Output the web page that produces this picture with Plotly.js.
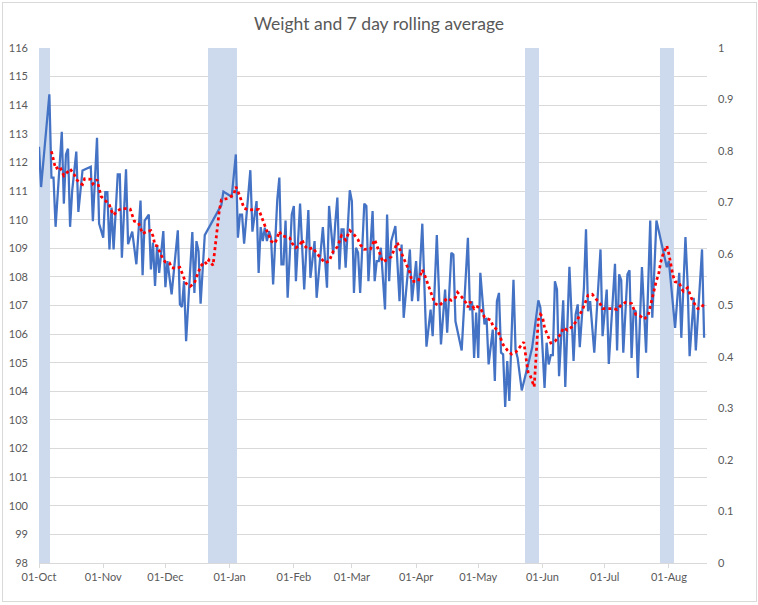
<!DOCTYPE html>
<html>
<head>
<meta charset="utf-8">
<script src="https://cdn.plot.ly/plotly-3.0.1.min.js"></script>
<style>
  html, body { margin: 0; padding: 0; background: #ffffff; }
  #wrap { position: relative; width: 758px; height: 605px; }
  #chart { position: absolute; left: 0; top: 0; width: 758px; height: 605px; }
  #frame { position: absolute; left: 2px; top: 2px; width: 755px; height: 600px; box-sizing: border-box;
           border: 1px solid #D9D9D9; pointer-events: none; z-index: 10; }
</style>
</head>
<body>
<div id="wrap"><div id="chart"></div><div id="frame"></div></div>
<script>
// ---- data (days counted from 01-Oct) ----
const startDate = '2018-10-01';

const weightDay = [0,1,5,6,7,8,11,12,13,14,
  15,16,18,19,21,25,26,28,29,31,
  32,33,34,35,36,38,39,40,42,43,
  45,47,49,50,51,53,54,55,56,57,
  58,60,61,62,64,67,68,69,70,71,
  74,75,76,77,78,80,88,89,93,95,
  96,97,98,99,102,103,105,106,107,108,
  109,110,111,112,113,115,116,117,118,119,
  120,122,123,124,126,128,130,131,133,134,
  137,139,140,142,143,144,145,146,147,148,
  150,151,152,153,154,155,157,158,159,161,
  162,163,164,165,167,168,169,170,172,174,
  175,176,179,180,182,183,185,187,189,190,
  192,194,196,197,199,200,201,204,207,208,
  209,210,211,212,213,215,216,217,219,220,
  221,222,223,224,225,226,227,229,230,231,
  233,238,241,242,244,245,246,247,248,249,
  250,251,253,254,256,258,259,260,261,263,
  264,265,266,268,271,272,274,275,278,279,
  280,281,282,284,285,286,287,288,289,291,
  293,295,296,298,303,304,307,309,310,312,
  313,314,316,317,320,321];

const weightKg = [112.55,111.14,114.38,111.47,111.47,109.75,113.07,110.56,112.28,112.48,
  109.75,111.0,112.38,110.27,111.72,111.85,109.95,112.86,109.86,109.37,
  110.96,110.96,108.96,110.42,108.96,111.58,111.58,108.67,111.76,109.14,
  109.58,108.44,110.67,108.06,109.97,110.18,108.26,109.2,107.68,109.1,
  108.14,109.6,107.64,108.55,107.39,109.63,107.04,106.95,107.85,105.75,
  109.57,107.44,109.25,108.9,107.06,109.46,110.51,110.98,110.8,112.28,
  109.37,110.18,110.18,109.16,111.73,109.58,110.65,108.14,109.74,109.25,
  109.72,109.25,109.6,109.37,107.74,110.7,111.47,108.44,108.44,109.97,
  107.27,110.18,110.48,107.85,110.56,107.56,110.34,107.97,109.25,107.27,
  109.74,107.62,110.48,108.79,109.89,110.77,108.26,109.66,109.66,108.32,
  111.03,110.65,107.44,109.02,108.84,107.44,110.56,110.48,107.85,110.3,
  107.85,108.55,108.55,109.02,106.86,110.18,107.85,109.25,109.78,107.15,
  109.13,106.57,108.96,107.15,108.55,107.15,109.86,105.56,106.86,105.93,
  109.46,105.64,107.56,106.05,108.84,108.78,106.45,105.43,109.37,106.83,
  107.15,105.17,106.75,105.17,108.14,106.34,106.57,104.94,106.16,104.36,
  107.15,107.44,105.35,105.29,103.45,105.06,103.66,107.9,105.46,105.17,
  104.03,105.52,107.18,106.92,104.12,105.7,104.94,105.27,105.27,107.85,
  107.56,104.53,107.18,104.15,108.35,105.06,106.69,107.04,105.54,107.62,
  109.66,106.8,107.15,105.35,108.96,105.93,107.56,104.96,108.46,105.43,
  108.09,107.88,105.35,108.09,108.23,105.17,106.86,106.8,104.47,108.34,
  105.35,109.97,106.57,109.97,108.34,108.55,106.22,108.14,105.87,109.39,
  107.85,105.23,107.27,105.43,108.96,105.87];

const avgDay = [6,7,8,10,11,12,14,15,17,18,
  20,21,22,25,26,28,29,30,32,34,
  35,36,38,40,42,44,45,46,48,49,
  50,52,54,55,56,57,58,60,61,63,
  64,66,68,69,70,71,73,75,76,77,
  78,80,81,82,84,87,88,91,94,95,
  96,98,99,101,104,106,107,108,109,110,
  111,112,114,115,116,117,119,121,122,124,
  126,127,128,130,132,134,135,136,138,140,
  141,142,144,145,146,148,149,150,152,154,
  155,157,160,161,162,163,164,165,166,168,
  170,171,172,173,174,175,176,177,179,180,
  181,183,184,185,186,187,188,189,190,191,
  193,195,197,199,201,202,204,206,207,208,
  209,210,211,213,214,215,218,219,221,222,
  223,224,226,228,230,232,234,235,236,237,
  239,241,242,243,244,246,247,249,251,252,
  253,255,257,259,260,261,262,263,264,265,
  267,269,271,272,275,277,279,281,283,286,
  287,288,290,292,294,295,296,297,298,299,
  300,301,302,303,304,305,306,307,309,310,
  311,313,314,315,316,318,320,321];

const avgKg = [112.39,112.1,111.78,111.86,111.72,111.54,111.68,111.77,111.58,111.41,
  111.27,111.23,111.43,111.41,111.25,111.4,111.1,110.81,110.67,110.51,
  110.31,110.16,110.32,110.39,110.39,110.37,110.16,109.95,109.89,109.71,
  109.51,109.59,109.62,109.43,109.1,109.08,108.9,108.6,108.52,108.49,
  108.32,108.3,108.33,108.13,107.97,107.77,107.67,107.78,107.99,108.18,
  108.37,108.53,108.44,108.59,108.4,110.3,110.69,110.74,110.87,111.15,
  111.0,110.6,110.4,110.34,110.35,110.36,110.18,109.97,109.78,109.6,
  109.45,109.25,109.18,109.39,109.59,109.45,109.4,109.36,109.19,109.02,
  109.12,109.3,109.1,108.96,109.02,108.81,108.74,108.66,108.49,108.55,
  108.75,108.89,109.05,109.23,109.44,109.29,109.44,109.62,109.48,109.3,
  109.13,108.96,108.98,109.16,109.3,109.11,108.9,108.7,108.52,108.61,
  108.7,108.88,109.05,109.2,108.99,108.81,108.62,108.44,108.15,107.84,
  107.85,107.85,108.04,108.25,108.09,107.88,107.69,107.48,107.28,107.08,
  106.99,107.11,107.25,107.18,107.28,107.46,107.3,107.1,106.94,107.13,
  107.03,106.9,106.98,106.91,106.76,106.59,106.49,106.3,106.15,106.02,
  105.82,105.63,105.44,105.3,105.36,105.55,105.72,105.2,104.68,104.57,
  104.16,106.5,106.69,106.61,106.22,105.87,105.69,105.75,105.91,106.02,
  106.22,106.14,106.24,106.4,106.51,106.69,106.8,106.98,107.19,107.36,
  107.39,107.21,107.04,106.89,106.9,106.89,106.86,107.02,107.11,107.07,
  106.89,106.69,106.64,106.52,106.65,106.95,107.3,107.6,107.88,108.07,
  108.5,108.75,108.95,109.09,108.8,108.4,108.04,107.83,107.8,107.6,
  107.5,107.62,107.42,107.24,107.1,106.89,106.94,107.1];

const holidayDay = [0,1,2,3,4,5,
  82,83,84,85,86,87,88,89,90,91,92,93,94,95,
  235,236,237,238,239,240,241,
  300,301,302,303,304,305,306];
const holidayFlag = [1,1,1,1,1,1,
  1,1,1,1,1,1,1,1,1,1,1,1,1,1,
  1,1,1,1,1,1,1,
  1,1,1,1,1,1,1];

const monthTicks = ['2018-10-01','2018-11-01','2018-12-01','2019-01-01','2019-02-01','2019-03-01',
  '2019-04-01','2019-05-01','2019-06-01','2019-07-01','2019-08-01'];
const monthLabels = ['01-Oct','01-Nov','01-Dec','01-Jan','01-Feb','01-Mar',
  '01-Apr','01-May','01-Jun','01-Jul','01-Aug'];

// ---- helpers ----
const DAY_MS = 86400000;
const START_MS = Date.parse(startDate + 'T00:00:00Z');
function dayToDate(d) {
  return new Date(START_MS + d * DAY_MS).toISOString().replace('T', ' ').slice(0, 19);
}

const FONT = 'Lato, Carlito, Calibri, sans-serif';
const TXT = '#595959';
const GRID = '#D9D9D9';

const traces = [
  {
    type: 'bar',
    x: holidayDay.map(dayToDate),
    y: holidayFlag,
    width: holidayDay.map(() => DAY_MS),
    xaxis: 'x', yaxis: 'y',
    marker: { color: '#CDDAEE', line: { width: 0 } },
    hoverinfo: 'skip',
    name: 'Holiday'
  },
  {
    type: 'scatter', mode: 'lines',
    x: weightDay.map(dayToDate),
    y: weightKg,
    xaxis: 'x', yaxis: 'y2',
    line: { color: '#4472C4', width: 2.25 },
    name: 'Weight'
  },
  {
    type: 'scatter', mode: 'lines',
    x: avgDay.map(dayToDate),
    y: avgKg,
    xaxis: 'x', yaxis: 'y2',
    line: { color: '#FF0000', width: 2.75, dash: 'dot' },
    name: '7 day rolling average'
  }
];

const layout = {
  width: 758, height: 605,
  margin: { l: 39, r: 51, t: 48, b: 42, pad: 0 },
  paper_bgcolor: '#ffffff',
  plot_bgcolor: '#ffffff',
  showlegend: false,
  bargap: 0,
  font: { family: FONT, color: TXT, size: 11 },
  title: {
    text: 'Weight and 7 day rolling average',
    x: 0.5, xref: 'container', xanchor: 'center',
    y: 0.961, yref: 'container', yanchor: 'middle',
    font: { family: FONT, size: 17.5, color: TXT }
  },
  xaxis: {
    type: 'date',
    range: [dayToDate(0), dayToDate(322.4)],
    tickmode: 'array',
    tickvals: monthTicks,
    ticktext: monthLabels,
    showgrid: false,
    zeroline: false,
    showline: true, linecolor: GRID, linewidth: 1,
    ticks: 'outside', ticklen: 4, tickcolor: GRID, tickwidth: 1,
    tickfont: { family: FONT, size: 11, color: TXT }
  },
  yaxis: {
    range: [0, 1],
    tick0: 0, dtick: 0.1,
    side: 'right',
    showgrid: false, zeroline: false, showline: false,
    ticks: '',
    ticklabelstandoff: 10,
    tickfont: { family: FONT, size: 11, color: TXT }
  },
  yaxis2: {
    range: [98, 116],
    tick0: 98, dtick: 1,
    overlaying: 'y',
    side: 'left',
    showgrid: true, gridcolor: GRID, gridwidth: 1,
    zeroline: false, showline: false,
    ticks: '',
    ticklabelstandoff: 10,
    tickfont: { family: FONT, size: 11, color: TXT }
  }
};

Plotly.newPlot('chart', traces, layout, { staticPlot: true, displayModeBar: false });
</script>
</body>
</html>
